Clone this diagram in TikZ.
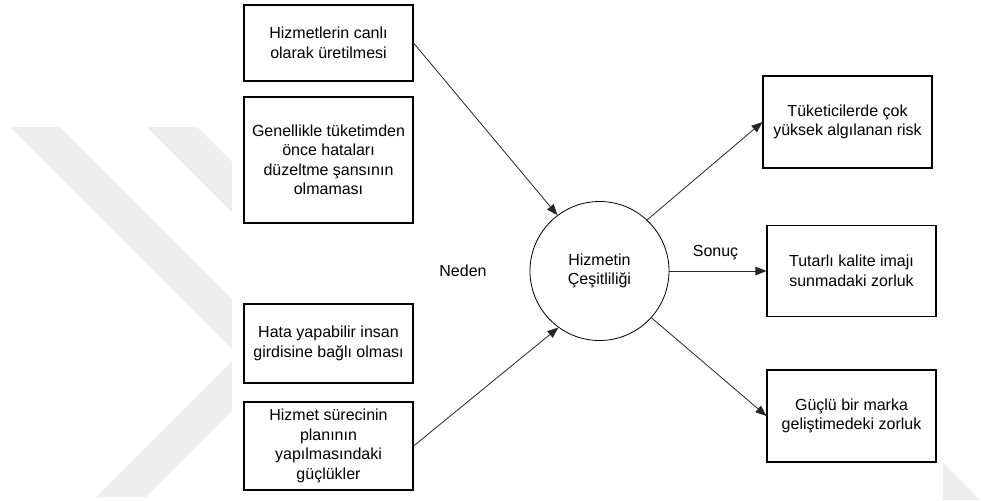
\documentclass[tikz,border=0pt]{standalone}
\usepackage{fontspec}
\setmainfont{Liberation Sans}
\usetikzlibrary{arrows.meta}
\definecolor{wmark}{RGB}{238,238,238}
\begin{document}
\begin{tikzpicture}[x=1pt,y=-1pt,
  txt/.style={font=\fontsize{16}{19.5}\selectfont},
  box/.style={txt, draw=black, line width=1.1pt, fill=white, align=center,
    inner sep=0pt, minimum width=169pt},
  hub/.style={txt, draw=black, line width=0.8pt, circle, minimum size=139pt,
    inner sep=0pt, align=center},
  link/.style={draw=black!85, line width=0.8pt, -{Triangle[length=11pt,width=8.5pt]}},
  lbl/.style={txt, inner sep=0pt}]
\useasboundingbox (0,0) rectangle (981,500);

% faint background marks
\begin{scope}
  \clip (0,0) rectangle (232,500);
  \fill[wmark] (10,127) -- (60,127) -- (288,355) -- (146,497) -- (96,497) -- (238,355) -- cycle;
  \fill[wmark] (147,127) -- (197,127) -- (425,355) -- (283,497) -- (233,497) -- (375,355) -- cycle;
\end{scope}
\fill[wmark] (943,463) -- (980,500) -- (943,500) -- cycle;

% causes
\node[box, minimum height=76pt]  (b1) at (328.5,43)    {Hizmetlerin canlı\\olarak üretilmesi};
\node[box, minimum height=126pt] (b2) at (328.5,160)   {Genellikle tüketimden\\önce hataları\\düzeltme şansının\\olmaması};
\node[box, minimum height=79pt]  (b3) at (328.5,343.5) {Hata yapabilir insan\\girdisine bağlı olması};
\node[box, minimum height=88pt]  (b4) at (328.5,446)   {Hizmet sürecinin\\planının\\yapılmasındaki\\güçlükler};

% central concept
\node[hub] (hub) at (599.5,271) {Hizmetin\\Çeşitliliği};

% consequences
\node[box, minimum height=92pt] (r1) at (847.5,122) {Tüketicilerde çok\\yüksek algılanan risk};
\node[box, minimum height=91pt] (r2) at (851.5,271) {Tutarlı kalite imajı\\sunmadaki zorluk};
\node[box, minimum height=92pt] (r3) at (851.5,416) {Güçlü bir marka\\geliştimedeki zorluk};

% labels
\node[lbl] (neden) at (463,271)   {Neden};
\node[lbl] (sonuc) at (715.5,253) {Sonuç};

% connectors
\draw[link] (b1.east) -- (hub.127);
\draw[link] (b4.east) -- (hub.234);
\draw[link] (hub.47)  -- (r1.west);
\draw[link] (hub.east) -- (r2.west);
\draw[link] (hub.-42) -- (r3.west);
\end{tikzpicture}
\end{document}
